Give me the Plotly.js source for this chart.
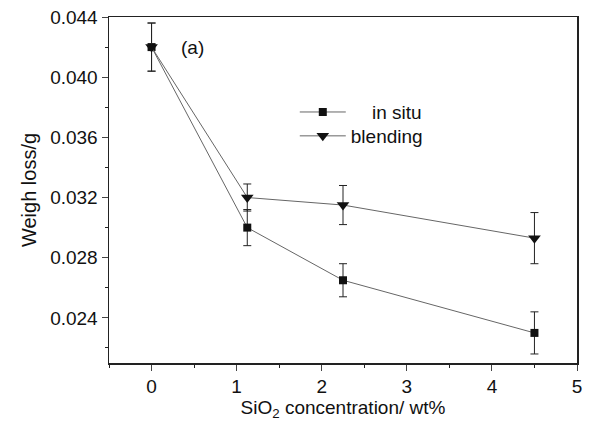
<!DOCTYPE html>
<html><head><meta charset="utf-8">
<script src="https://cdn.plot.ly/plotly-3.0.1.min.js"></script>
<style>html,body{margin:0;padding:0;background:#fff;}#chart{width:590px;height:421px;}</style>
</head><body><div id="chart"></div>
<script>
const xVals = [0, 1.125, 2.25, 4.5];
const inSitu = [0.0420, 0.0300, 0.0265, 0.0230];
const inSituErr = [0.0016, 0.0012, 0.0011, 0.0014];
const blending = [0.0420, 0.0320, 0.0315, 0.0293];
const blendingErr = [0.0016, 0.0009, 0.0013, 0.0017];
const seriesNames = ["\u00a0\u00a0\u00a0\u00a0in situ", "blending"];

const font = {family: "Liberation Sans, Arial, sans-serif", color: "#111"};
const legendBase = {xanchor: "left", yanchor: "top", bgcolor: "rgba(0,0,0,0)",
                    font: Object.assign({size: 19}, font), itemwidth: 46};
const traces = [
  {x: xVals, y: inSitu, name: seriesNames[0], type: "scatter", mode: "lines+markers", legend: "legend",
   line: {color: "#666", width: 1}, marker: {symbol: "square", size: 8, color: "#111"},
   error_y: {type: "data", array: inSituErr, visible: true, color: "#222", thickness: 1, width: 4}},
  {x: xVals, y: blending, name: seriesNames[1], type: "scatter", mode: "lines+markers", legend: "legend2",
   line: {color: "#666", width: 1}, marker: {symbol: "triangle-down", size: 11, color: "#111"},
   error_y: {type: "data", array: blendingErr, visible: true, color: "#222", thickness: 1, width: 4}}
];
const layout = {
  width: 590, height: 421,
  margin: {l: 109, r: 13, t: 17, b: 58},
  paper_bgcolor: "#fff", plot_bgcolor: "#fff",
  font: Object.assign({size: 18}, font),
  showlegend: true,
  legend: Object.assign({x: 0.397, y: 0.78}, legendBase),
  legend2: Object.assign({x: 0.397, y: 0.711}, legendBase),
  xaxis: {range: [-0.5, 5], tickvals: [0,1,2,3,4,5], ticks: "outside", ticklen: 6, tickwidth: 1,
          showgrid: false, zeroline: false, showline: true, linecolor: "#222", linewidth: 1.5, mirror: true,
          tickfont: Object.assign({size: 19}, font),
          minor: {dtick: 0.5, ticks: "outside", ticklen: 3, tickcolor: "#222"},
          title: {text: "SiO<sub>2</sub> concentration/ wt%", font: Object.assign({size: 19}, font), standoff: 5}},
  yaxis: {range: [0.021, 0.044], tickvals: [0.024, 0.028, 0.032, 0.036, 0.040, 0.044], tickformat: ".3f",
          ticks: "outside", ticklen: 6, tickwidth: 1,
          showgrid: false, zeroline: false, showline: true, linecolor: "#222", linewidth: 1.5, mirror: true,
          tickfont: Object.assign({size: 19}, font),
          minor: {tickvals: [0.022, 0.026, 0.030, 0.034, 0.038, 0.042], ticks: "outside", ticklen: 3, tickcolor: "#222"},
          title: {text: "Weigh loss/g", font: Object.assign({size: 20}, font), standoff: 8}},
  annotations: [{x: 0.48, y: 0.0420, xref: "x", yref: "y", text: "(a)", showarrow: false,
                 font: Object.assign({size: 19}, font)}]
};
Plotly.newPlot("chart", traces, layout, {displayModeBar: false, staticPlot: true});
</script></body></html>
